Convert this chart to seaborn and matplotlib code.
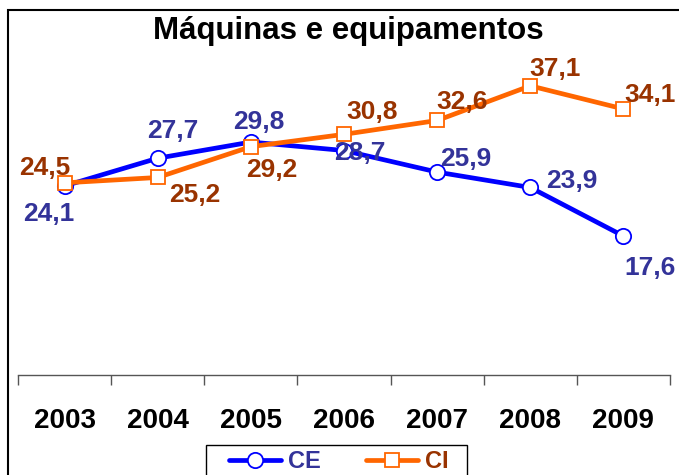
import matplotlib
matplotlib.use("Agg")
import matplotlib.pyplot as plt
import seaborn as sns
import pandas as pd
from matplotlib.patches import Rectangle

years = ["2003", "2004", "2005", "2006", "2007", "2008", "2009"]
ce = [24.1, 27.7, 29.8, 28.7, 25.9, 23.9, 17.6]
ci = [24.5, 25.2, 29.2, 30.8, 32.6, 37.1, 34.1]
title = "Máquinas e equipamentos"

# label offsets (pixels) – style only
ce_off = [(-16, -28), (15, 27), (8, 20), (16, -2), (29, 13), (42, 6), (27, -32)]
ci_off = [(-20, 15), (37, -18), (21, -23), (28, 22), (25, 18), (25, 17), (27, 14)]

sns.set_theme(style="white")
plt.rcParams["font.family"] = ["Liberation Sans", "DejaVu Sans"]
plt.rcParams["text.color"] = "black"

fig = plt.figure(figsize=(6.79, 4.75), dpi=100)
ax = fig.add_axes([18/679, 100/475, 652/679, (375-63.5)/475])

df = pd.DataFrame({"x": list(range(len(years))), "CE": ce, "CI": ci})
sns.lineplot(data=df, x="x", y="CE", ax=ax, color="#0000FF", lw=3.4,
             marker="o", markersize=11, markerfacecolor="white",
             markeredgecolor="#0000FF", markeredgewidth=1.3, label="CE", zorder=3)
sns.lineplot(data=df, x="x", y="CI", ax=ax, color="#FF6600", lw=3.4,
             marker="s", markersize=10.5, markerfacecolor="white",
             markeredgecolor="#FF6600", markeredgewidth=1.3, label="CI", zorder=4)

for i, (v, o) in enumerate(zip(ce, ce_off)):
    ax.annotate(f"{v:.1f}".replace(".", ","), (i, v), xytext=o, textcoords="offset pixels",
                ha="center", va="center", fontsize=19, fontweight="bold", color="#333399", zorder=5)
for i, (v, o) in enumerate(zip(ci, ci_off)):
    ax.annotate(f"{v:.1f}".replace(".", ","), (i, v), xytext=o, textcoords="offset pixels",
                ha="center", va="center", fontsize=19, fontweight="bold", color="#993300", zorder=5)

ax.set_xlim(-0.5, len(years) - 0.5)
ax.set_ylim(-0.45, 40)
ax.set_yticks([])
ax.set_xticks(range(len(years)))
ax.set_xticklabels(years, fontsize=20, fontweight="bold", color="black")
ax.set_xticks([i - 0.5 for i in range(len(years) + 1)], minor=True)
ax.tick_params(axis="x", which="major", length=0, pad=24)
ax.tick_params(axis="x", which="minor", length=7.2, width=1, color="#555555", direction="out", bottom=True)
ax.set_xlabel("")
ax.set_ylabel("")
for s in ["left", "right", "top"]:
    ax.spines[s].set_visible(False)
ax.spines["bottom"].set_color("#555555")
ax.spines["bottom"].set_linewidth(1)
ax.patch.set_alpha(0)

leg = ax.legend(loc="upper left", bbox_to_anchor=(229/679, 25/475), bbox_transform=fig.transFigure,
                ncol=2, frameon=False, borderaxespad=0, handlelength=2.2,
                columnspacing=1.9, handletextpad=0.3, borderpad=0,
                prop={"size": 17, "weight": "bold"})
for t, c in zip(leg.get_texts(), ["#333399", "#993300"]):
    t.set_color(c)

# legend box (Excel style, cut by the image edge)
fig.patches.append(Rectangle((206/679, -0.1), (467-206)/679, 0.1 + 30/475, transform=fig.transFigure,
                             fill=False, edgecolor="black", lw=1, clip_on=False))

fig.text(348/679, 1 - 31/475, title, ha="center", va="center", fontsize=22.5,
         fontweight="bold", color="black")

fig.patches.append(Rectangle((8/679, -0.2), 1.5, 1.2 - 10/475, transform=fig.transFigure,
                             fill=False, edgecolor="black", lw=1.5, clip_on=False))

fig.savefig("out.png", dpi=100)
